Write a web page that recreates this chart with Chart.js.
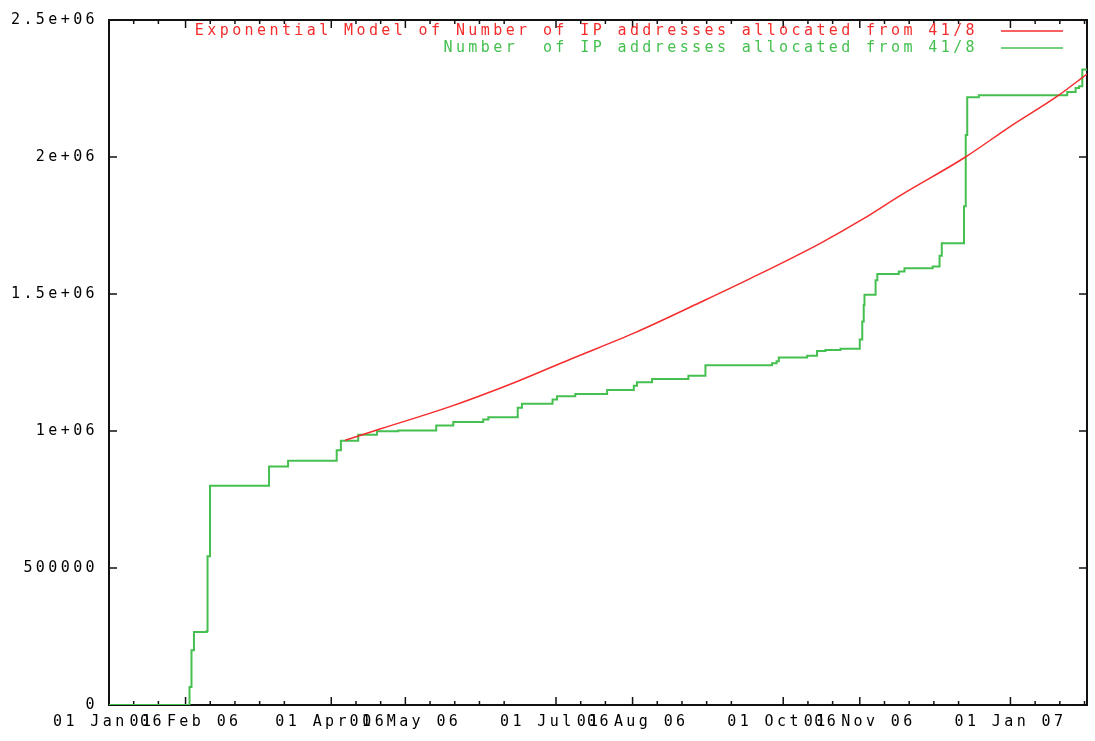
<!DOCTYPE html>
<html>
<head>
<meta charset="utf-8">
<title>IP addresses allocated from 41/8</title>
<script src="https://cdn.jsdelivr.net/npm/chart.js@4.4.1/dist/chart.umd.min.js"></script>
<style>
  html, body { margin: 0; padding: 0; background: #fff; }
  #wrap { width: 1095px; height: 741px; position: relative; }
</style>
</head>
<body>
<div id="wrap"><canvas id="ipChart"></canvas></div>
<script>
// x values are days since 01 Jan 2006
const modelDays = [95.6, 110, 137.5, 164.5, 186.8, 213, 239.5, 260, 288, 305, 320.5, 346.8, 365, 384, 396];
const modelValues = [966000, 1008000, 1087000, 1178000, 1262000, 1359000, 1470000, 1558000, 1685000, 1772000, 1860000, 2000000, 2112000, 2222000, 2303000];

const allocDays = [0, 32.6, 33.4, 34.4, 39.6, 39.9, 40.9, 64.8, 72.5, 92.2, 93.9, 100.9, 108.5, 117.1,
  132.5, 139.4, 151.5, 153.6, 165.5, 167.2, 179.6, 181.4, 188.8, 201.7, 212.5, 213.8, 219.9, 234.6,
  241.5, 268.5, 270.3, 271.2, 282.7, 286.7, 290.1, 296.2, 304.0, 305.0, 305.6, 305.9, 310.4, 311.1,
  319.8, 322.1, 333.5, 336.3, 337.2, 346.2, 346.9, 347.5, 352.2, 388.0, 391.4, 392.8, 394.1, 396];
const allocValues = [0, 66000, 200000, 266000, 270000, 543000, 800000, 870000, 891000, 930000, 964000, 986000, 999000, 1002000,
  1020000, 1033000, 1042000, 1050000, 1085000, 1099000, 1115000, 1127000, 1135000, 1150000, 1165000, 1178000, 1190000, 1202000,
  1240000, 1247000, 1255000, 1268000, 1275000, 1292000, 1296000, 1300000, 1334000, 1400000, 1460000, 1497000, 1550000, 1573000,
  1582000, 1594000, 1600000, 1640000, 1685000, 1820000, 2080000, 2218000, 2225000, 2237000, 2252000, 2258000, 2319000, 2319000];

const xTickDays = [0, 31, 90, 120, 181, 212, 273, 304, 365];
const xTickLabels = ['01 Jan 06', '01 Feb 06', '01 Apr 06', '01 May 06', '01 Jul 06', '01 Aug 06', '01 Oct 06', '01 Nov 06', '01 Jan 07'];
const xMinorTickDays = [10, 20, 41, 51, 61, 71, 100, 110, 130, 140, 150, 160, 191, 201, 222, 232, 242, 252,
  283, 293, 314, 324, 334, 344, 375, 385, 395];
const yTickValues = [0, 500000, 1000000, 1500000, 2000000, 2500000];
const yTickLabels = ['0', '500000', '1e+06', '1.5e+06', '2e+06', '2.5e+06'];

const RED = '#f52c2c';
const GREEN = '#45c050';
const FONT = 'DejaVu Sans Mono';
const FONT_SIZE = 15;
const SPACING = '3.4px';

// gnuplot style box with inward ticks on all four sides
const gnuplotFrame = {
  id: 'gnuplotFrame',
  beforeDraw(chart) {
    chart.ctx.letterSpacing = SPACING;
  },
  beforeDatasetsDraw(chart) {
    const { ctx, chartArea: a, scales: { x, y } } = chart;
    ctx.save();
    ctx.strokeStyle = '#111';
    ctx.lineWidth = 2;
    ctx.strokeRect(a.left, a.top, a.right - a.left, a.bottom - a.top);
    ctx.lineWidth = 1.5;
    ctx.beginPath();
    const xMark = (d, len) => {
      const px = x.getPixelForValue(d);
      ctx.moveTo(px, a.bottom); ctx.lineTo(px, a.bottom - len);
      ctx.moveTo(px, a.top); ctx.lineTo(px, a.top + len);
    };
    xTickDays.forEach(d => xMark(d, 8));
    xMinorTickDays.forEach(d => xMark(d, 4));
    yTickValues.forEach(v => {
      const py = y.getPixelForValue(v);
      ctx.moveTo(a.left, py); ctx.lineTo(a.left + 8, py);
      ctx.moveTo(a.right, py); ctx.lineTo(a.right - 8, py);
    });
    ctx.stroke();
    ctx.restore();
  },
  afterDraw(chart) {
    const { ctx } = chart;
    ctx.save();
    ctx.letterSpacing = SPACING;
    ctx.font = `${FONT_SIZE}px "${FONT}"`;
    ctx.textAlign = 'right';
    ctx.textBaseline = 'middle';
    chart.data.datasets.forEach((ds, i) => {
      const yy = 31 + i * 17;
      ctx.fillStyle = ds.borderColor;
      ctx.fillText(ds.label, 978, yy);
      ctx.strokeStyle = ds.borderColor;
      ctx.lineWidth = 1.5;
      ctx.beginPath();
      ctx.moveTo(1001, yy);
      ctx.lineTo(1063, yy);
      ctx.stroke();
    });
    ctx.restore();
  }
};

const ctx = document.getElementById('ipChart').getContext('2d');
new Chart(ctx, {
  type: 'line',
  data: {
    datasets: [
      {
        label: 'Exponential Model of Number of IP addresses allocated from 41/8',
        data: modelDays.map((d, i) => ({ x: d, y: modelValues[i] })),
        borderColor: RED,
        borderWidth: 1.5,
        pointRadius: 0,
        cubicInterpolationMode: 'monotone'
      },
      {
        label: 'Number  of IP addresses allocated from 41/8',
        data: allocDays.map((d, i) => ({ x: d, y: allocValues[i] })),
        borderColor: GREEN,
        borderWidth: 2,
        pointRadius: 0,
        stepped: 'before'
      }
    ]
  },
  options: {
    responsive: true,
    maintainAspectRatio: false,
    animation: false,
    devicePixelRatio: 1,
    layout: { padding: { top: 15, right: 8, left: 0, bottom: 0 } },
    plugins: {
      legend: { display: false },
      tooltip: { enabled: false }
    },
    scales: {
      x: {
        type: 'linear',
        min: 0,
        max: 396,
        afterBuildTicks: s => { s.ticks = xTickDays.map(v => ({ value: v })); },
        afterFit: s => { s.height = 36; },
        grid: { display: false, drawTicks: false },
        border: { display: false },
        ticks: {
          autoSkip: false,
          maxRotation: 0,
          padding: 8,
          color: '#000',
          font: { family: FONT, size: FONT_SIZE },
          callback: v => xTickLabels[xTickDays.indexOf(v)] ?? ''
        }
      },
      y: {
        min: 0,
        max: 2500000,
        afterBuildTicks: s => { s.ticks = yTickValues.map(v => ({ value: v })); },
        afterFit: s => { s.width = 109; },
        grid: { display: false, drawTicks: false },
        border: { display: false },
        ticks: {
          padding: 11,
          color: '#000',
          font: { family: FONT, size: FONT_SIZE },
          callback: v => yTickLabels[yTickValues.indexOf(v)] ?? ''
        }
      }
    }
  },
  plugins: [gnuplotFrame]
});
</script>
</body>
</html>
